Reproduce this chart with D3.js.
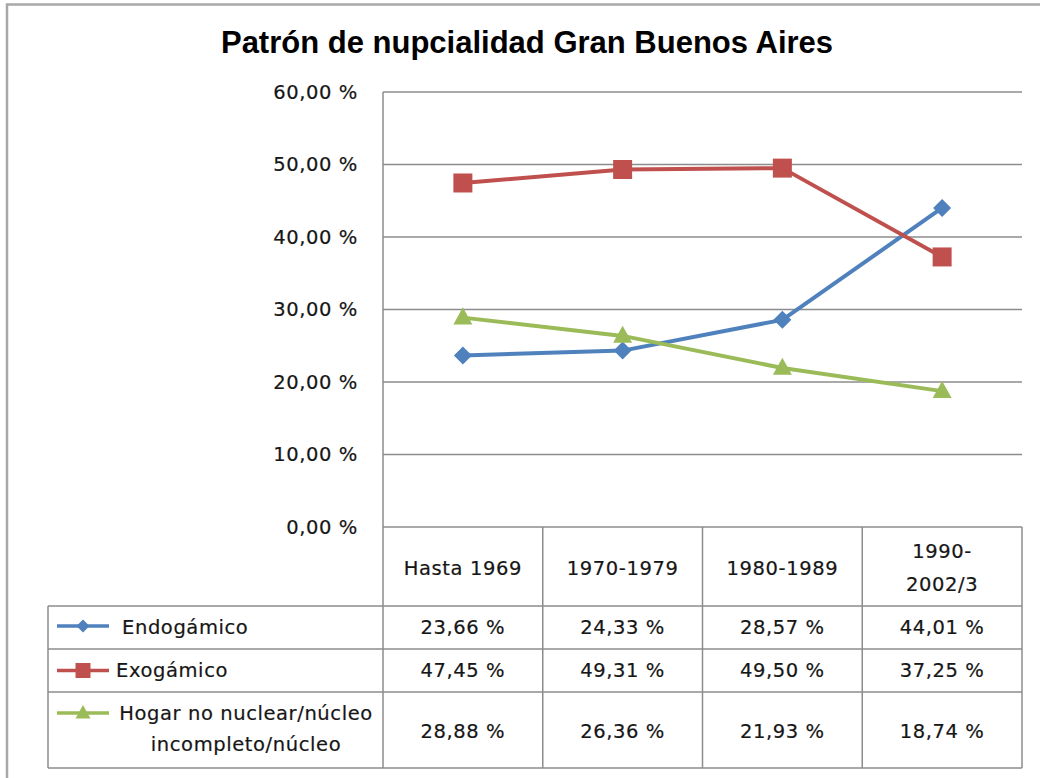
<!DOCTYPE html>
<html>
<head>
<meta charset="utf-8">
<script src="https://cdn.jsdelivr.net/npm/d3@7"></script>
<style>
  html, body { margin: 0; padding: 0; background: #fff; }
  svg { display: block; }
  text.t { font-family: "DejaVu Sans", Verdana, sans-serif; fill: #161616; stroke: #161616; stroke-width: 0.2px;
           font-size: 19.5px; letter-spacing: 0.6px; }
</style>
</head>
<body>
<svg id="chart" width="1040" height="778"></svg>
<script>
// ---- data ----
const categories = ["Hasta 1969", "1970-1979", "1980-1989", "1990-2002/3"];
const headerLabels = [["Hasta 1969"], ["1970-1979"], ["1980-1989"], ["1990-", "2002/3"]];
const seriesNames = ["Endogámico", "Exogámico", "Hogar no nuclear/núcleo incompleto/núcleo"];
const legendLines = [["Endogámico"], ["Exogámico"], ["Hogar no nuclear/núcleo", "incompleto/núcleo"]];
const endogamico = [23.66, 24.33, 28.57, 44.01];
const exogamico = [47.45, 49.31, 49.50, 37.25];
const hogar = [28.88, 26.36, 21.93, 18.74];
const yTicks = [0, 10, 20, 30, 40, 50, 60];
const title = "Patrón de nupcialidad Gran Buenos Aires";

const seriesValues = [endogamico, exogamico, hogar];
const colors = ["#4f81bd", "#c0504d", "#9bbb59"];
const markers = ["diamond", "square", "triangle"];

// ---- layout ----
const plotLeft = 383, plotRight = 1022, plotTop = 92, plotBottom = 527;
const headerBottom = 606;
const rowLines = [606, 649, 692, 768];
const legendLeft = 48;
const gridColor = "#8c8c8c";

const svg = d3.select("#chart");

// outer chart border
svg.append("path")
  .attr("d", "M7,778 L7,4.5 L1040,4.5")
  .attr("fill", "none").attr("stroke", "#a8a8a8").attr("stroke-width", 2.5);

// title
svg.append("text")
  .attr("x", 527).attr("y", 53)
  .attr("text-anchor", "middle")
  .style("font-family", "'Liberation Sans', Arial, sans-serif")
  .style("font-weight", "bold").style("font-size", "31px")
  .style("fill", "#000")
  .text(title);

const x = d3.scaleBand().domain(categories).range([plotLeft, plotRight]).padding(0);
const y = d3.scaleLinear().domain([0, 60]).range([plotBottom, plotTop]);
const fmt = v => d3.format(".2f")(v).replace(".", ",") + " %";

// gridlines
svg.append("g").selectAll("line").data(yTicks).join("line")
  .attr("x1", plotLeft).attr("x2", plotRight)
  .attr("y1", d => y(d)).attr("y2", d => y(d))
  .attr("stroke", gridColor).attr("stroke-width", 1.5);

// y axis (labels only, via d3 axis)
const yAxis = d3.axisLeft(y).tickValues(yTicks).tickFormat(fmt).tickSize(0).tickPadding(0);
const yg = svg.append("g").attr("transform", `translate(358,0)`).call(yAxis);
yg.select(".domain").remove();
yg.attr("font-family", null).attr("font-size", null);
yg.selectAll("text").attr("class", "t").attr("fill", null);

// y axis line
svg.append("line")
  .attr("x1", plotLeft).attr("x2", plotLeft).attr("y1", plotTop).attr("y2", rowLines[3])
  .attr("stroke", gridColor).attr("stroke-width", 1.5);

// ---- data table ----
const tg = svg.append("g");
const bounds = categories.map(c => x(c)).concat([plotRight]);
tg.selectAll("line.v").data(bounds.slice(1)).join("line")
  .attr("x1", d => d).attr("x2", d => d).attr("y1", plotBottom).attr("y2", rowLines[3])
  .attr("stroke", gridColor).attr("stroke-width", 1.5);
tg.append("line").attr("x1", legendLeft).attr("x2", legendLeft)
  .attr("y1", headerBottom).attr("y2", rowLines[3])
  .attr("stroke", gridColor).attr("stroke-width", 1.5);
tg.selectAll("line.h").data(rowLines).join("line")
  .attr("x1", legendLeft).attr("x2", plotRight)
  .attr("y1", d => d).attr("y2", d => d)
  .attr("stroke", gridColor).attr("stroke-width", 1.5);

// header labels
const headerBase = [[575], [575], [575], [558, 591]];
categories.forEach((c, i) => {
  headerLabels[i].forEach((ln, j) => {
    tg.append("text").attr("class", "t")
      .attr("x", x(c) + x.bandwidth() / 2).attr("y", headerBase[i][j])
      .attr("text-anchor", "middle")
      .text(ln);
  });
});

// values in table
const valueBase = [634, 677, 738];
seriesValues.forEach((vals, s) => {
  vals.forEach((v, i) => {
    tg.append("text").attr("class", "t")
      .attr("x", x(categories[i]) + x.bandwidth() / 2).attr("y", valueBase[s])
      .attr("text-anchor", "middle")
      .text(fmt(v));
  });
});

function markerPath(type, s) {
  const h = s / 2;
  if (type === "diamond") return `M0,${-h}L${h},0L0,${h}L${-h},0Z`;
  if (type === "square") return `M${-h},${-h}H${h}V${h}H${-h}Z`;
  const th = s * 0.9;
  return `M0,${-th * 0.6}L${h},${th * 0.4}L${-h},${th * 0.4}Z`;
}

// legend keys and labels
const keyY = [626, 670.5, 713];
const legendText = [
  {x: 122, anchor: "start", base: [634]},
  {x: 116, anchor: "start", base: [677]},
  {x: 246, anchor: "middle", base: [720, 751]}
];
seriesNames.forEach((name, s) => {
  tg.append("line").attr("x1", 57).attr("x2", 109).attr("y1", keyY[s]).attr("y2", keyY[s])
    .attr("stroke", colors[s]).attr("stroke-width", 3.5);
  tg.append("path").attr("d", markerPath(markers[s], markers[s] === "diamond" ? 13 : 15))
    .attr("transform", `translate(83,${keyY[s]})`).attr("fill", colors[s]);
  legendLines[s].forEach((ln, j) => {
    tg.append("text").attr("class", "t").attr("x", legendText[s].x).attr("y", legendText[s].base[j])
      .attr("text-anchor", legendText[s].anchor)
      .text(ln);
  });
});

// ---- lines ----
const line = d3.line()
  .x((d, i) => x(categories[i]) + x.bandwidth() / 2)
  .y(d => y(d));

seriesValues.forEach((vals, s) => {
  svg.append("path").datum(vals)
    .attr("d", line).attr("fill", "none")
    .attr("stroke", colors[s]).attr("stroke-width", 4)
    .attr("stroke-linejoin", "round");
});
seriesValues.forEach((vals, s) => {
  svg.append("g").selectAll("path").data(vals).join("path")
    .attr("d", markerPath(markers[s], markers[s] === "diamond" ? 18 : 19))
    .attr("transform", (d, i) => `translate(${x(categories[i]) + x.bandwidth() / 2},${y(d)})`)
    .attr("fill", colors[s]);
});
</script>
</body>
</html>
